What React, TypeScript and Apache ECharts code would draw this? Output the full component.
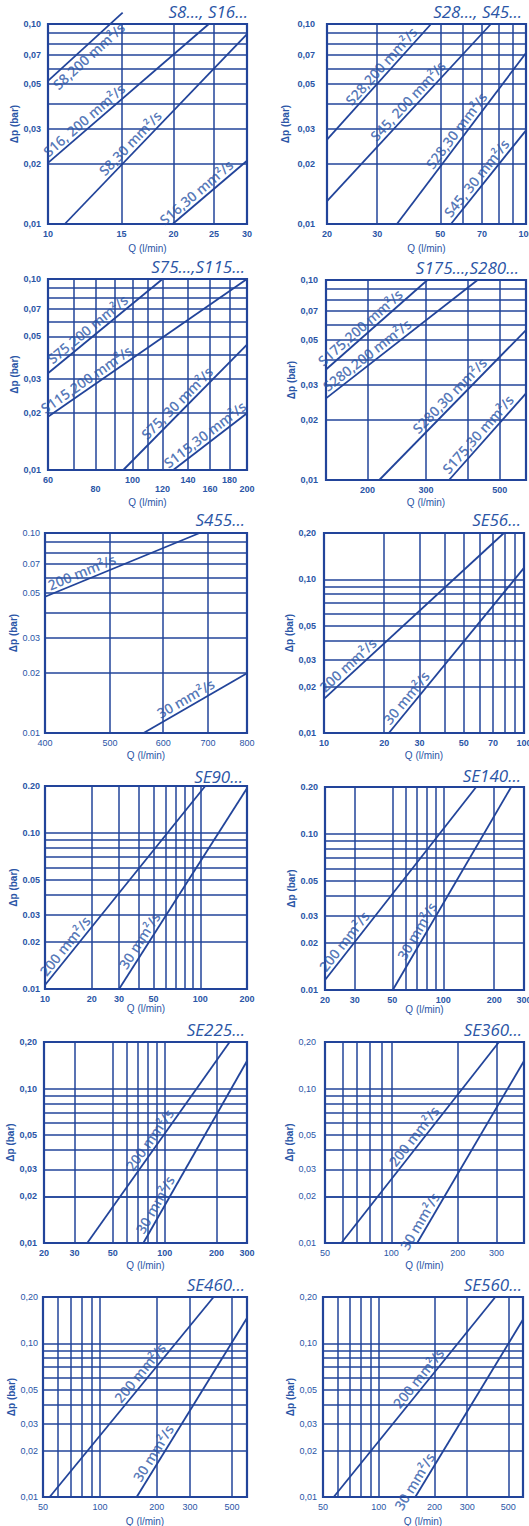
import React, { useEffect, useRef } from "react";
import * as echarts from "echarts";

// ---------- DATA ----------
const PANEL_TITLES = [
  "S8..., S16...", "S28..., S45...", "S75...,S115...", "S175...,S280...",
  "S455...", "SE56...", "SE90...", "SE140...", "SE225...", "SE360...", "SE460...", "SE560...",
];
const Q_MIN = [10, 20, 60, 150, 400, 10, 10, 20, 20, 50, 50, 50];
const Q_MAX = [30, 100, 200, 600, 800, 100, 200, 300, 300, 400, 600, 600];
const DP_MIN = [0.01, 0.01, 0.01, 0.01, 0.01, 0.01, 0.01, 0.01, 0.01, 0.01, 0.01, 0.01];
const DP_MAX = [0.1, 0.1, 0.1, 0.1, 0.1, 0.2, 0.2, 0.2, 0.2, 0.2, 0.2, 0.2];

const Q_TICK_LABELS = [
  [10, 15, 20, 25, 30],
  [20, 30, 50, 70, 100],
  [60, 80, 100, 120, 140, 160, 180, 200],
  [200, 300, 500],
  [400, 500, 600, 700, 800],
  [10, 20, 30, 50, 70, 100],
  [10, 20, 30, 50, 100, 200],
  [20, 30, 50, 100, 200, 300],
  [20, 30, 50, 100, 200, 300],
  [50, 100, 200, 300],
  [50, 100, 200, 300, 500],
  [50, 100, 200, 300, 500],
];
const Q_LOWER_ROW = [80, 120, 160, 200];
const Q_GRID_LINES = [
  [15, 20, 25],
  [30, 50, 60, 70, 80, 90],
  [70, 80, 90, 100, 110, 120, 140, 160, 180],
  [200, 300, 400, 500],
  [500, 600, 700],
  [20, 30, 40, 50, 60, 70, 80, 90],
  [20, 30, 40, 50, 60, 70, 80, 90, 100],
  [30, 50, 60, 70, 80, 90, 100, 200],
  [30, 50, 60, 70, 80, 90, 100, 200],
  [60, 70, 80, 90, 100, 200, 300],
  [60, 70, 80, 90, 100, 200, 300, 500],
  [60, 70, 80, 90, 100, 200, 300, 500],
];
const DP_TICK_LABELS_LOW = [0.01, 0.02, 0.03, 0.05, 0.07, 0.1];
const DP_TICK_LABELS_HIGH = [0.01, 0.02, 0.03, 0.05, 0.1, 0.2];
const DP_GRID_LOW = [0.02, 0.03, 0.04, 0.05, 0.06, 0.07, 0.08, 0.09];
const DP_GRID_HIGH = [0.02, 0.03, 0.04, 0.05, 0.06, 0.07, 0.08, 0.09, 0.1];
const DP_GRID_EXTRA = [[], [], [], [], [], [], [], [], [0.0225], [0.0225], [], []];

// curves: [Q start, Δp start, Q end, Δp end]
const CURVES_S8_S16 = [[10, 0.052, 15.1, 0.114], [10, 0.0202, 24.3, 0.1], [10.97, 0.01, 30, 0.089], [19.9, 0.01, 30, 0.0207]];
const CURVES_S28_S45 = [[20, 0.0264, 46.4, 0.1], [20, 0.013, 75.3, 0.1], [35.2, 0.01, 100, 0.0716], [54.5, 0.01, 100, 0.0294]];
const CURVES_S75_S115 = [[60, 0.0321, 120, 0.1], [60, 0.019, 200, 0.1], [94.6, 0.01, 200, 0.0453], [128, 0.01, 200, 0.0198]];
const CURVES_S175_S280 = [[150, 0.0357, 303, 0.1], [150, 0.0256, 429, 0.1], [217, 0.01, 600, 0.0562], [352, 0.01, 600, 0.0271]];
const CURVES_S455 = [[400, 0.048, 680, 0.1], [561, 0.01, 800, 0.0199]];
const CURVES_SE56 = [[10, 0.01665, 79.4, 0.2], [21.1, 0.01, 100, 0.1185]];
const CURVES_SE90 = [[10, 0.0106, 107.7, 0.2], [30, 0.01, 200, 0.1933]];
const CURVES_SE140 = [[20, 0.0116, 156.5, 0.2], [50.3, 0.01, 252, 0.2]];
const CURVES_SE225 = [[35.6, 0.01, 238, 0.2], [75.3, 0.01, 300, 0.1507]];
const CURVES_SE360 = [[59.3, 0.01, 308, 0.2], [131, 0.01, 400, 0.1507]];
const CURVES_SE460 = [[54.2, 0.01, 399.6, 0.2], [156.5, 0.01, 600, 0.1462]];
const CURVES_SE560 = [[57.1, 0.01, 425.6, 0.2], [157.4, 0.01, 600, 0.1426]];
const PANEL_CURVES = [
  CURVES_S8_S16, CURVES_S28_S45, CURVES_S75_S115, CURVES_S175_S280, CURVES_S455, CURVES_SE56,
  CURVES_SE90, CURVES_SE140, CURVES_SE225, CURVES_SE360, CURVES_SE460, CURVES_SE560,
];

const NAMES_S8_S16 = ["S8,200 mm²/s", "S16, 200 mm²/s", "S8,30 mm²/s", "S16,30 mm²/s"];
const NAMES_S28_S45 = ["S28,200 mm²/s", "S45, 200 mm²/s", "S28,30 mm²/s", "S45, 30 mm²/s"];
const NAMES_S75_S115 = ["S75,200 mm²/s", "S115,200 mm²/s", "S75, 30 mm²/s", "S115,30 mm²/s"];
const NAMES_S175_S280 = ["S175,200 mm²/s", "S280,200 mm²/s", "S280,30 mm²/s", "S175,30 mm²/s"];
const NAMES_SE = ["200 mm²/s", "30 mm²/s"];
const PANEL_NAMES = [
  NAMES_S8_S16, NAMES_S28_S45, NAMES_S75_S115, NAMES_S175_S280, NAMES_SE, NAMES_SE,
  NAMES_SE, NAMES_SE, NAMES_SE, NAMES_SE, NAMES_SE, NAMES_SE,
];
// Q value at the centre of each curve's label
const LABEL_Q = [
  [12.1, 12.6, 16.3, 23.4],
  [32.7, 40.5, 60.3, 70.8],
  [78.9, 78, 136, 160],
  [198, 207, 369, 450],
  [459, 658],
  [14.1, 27.9],
  [14.9, 45.3],
  [28.5, 77.5],
  [90, 97.5],
  [136, 145.6],
  [177, 210],
  [178, 171],
];

// ---------- LAYOUT / STYLE ----------
const W = 529;
const H = 1526;
const LINE_BLUE = "#22449a";
const TEXT_BLUE = "#2a55a6";
const GRID_RECTS = [
  [48, 24, 199, 200], [327, 24, 199, 200],
  [48, 279, 199, 191], [326, 280, 200, 200],
  [45, 533, 202, 200], [324, 533, 200, 200],
  [45, 786, 202, 203], [325, 787, 199, 203],
  [44, 1042, 203, 201], [325, 1042, 199, 201],
  [43, 1297, 204, 200], [323, 1297, 200, 200],
];
const TITLE_POS = [
  [248, 13.5], [522, 13.5], [245, 269], [519, 270], [245, 522], [521, 522],
  [243, 779], [521, 778], [245, 1032], [522, 1032], [245, 1287], [522, 1287],
];
const Y_NAME_GAP = [28, 37, 23, 23, 22, 20, 23, 22, 24, 23, 23, 21];
const X_NAME_GAP = [19, 19, 27, 17, 17, 17, 11, 11, 17, 17, 19, 19];
const Y_LABEL_MARGIN = [7, 12, 7, 8, 5, 8, 5, 7, 7, 9, 5, 6];
const DECIMAL_SEP = [",", ",", ",", ",", ".", ",", ".", ".", ",", ",", ",", ","];
const TICK_BOLD = [true, true, true, true, false, true, true, true, true, false, false, false];
const LABEL_BELOW = [[true, false, false, false]];
const LABEL_GAP = 9;

const lg = (v: number) => Math.log10(v);

function buildOption() {
  const grid: any[] = [];
  const xAxis: any[] = [];
  const yAxis: any[] = [];
  const series: any[] = [];
  const title: any[] = [];
  const tickFamily = "'Liberation Sans', Arial, sans-serif";
  const textFamily = "'Open Sans', 'Noto Sans', sans-serif";

  for (let i = 0; i < 12; i++) {
    const [left, top, width, height] = GRID_RECTS[i];
    const sep = DECIMAL_SEP[i];
    const weight = TICK_BOLD[i] ? "bold" : "normal";
    const highY = DP_MAX[i] > 0.15;

    grid.push({
      left, top, width, height, show: true, borderColor: LINE_BLUE, borderWidth: 2.2,
      backgroundColor: "rgba(0,0,0,0)", containLabel: false, outerBoundsMode: "none",
    });

    xAxis.push({
      type: "log", logBase: 10, gridIndex: i, min: Q_MIN[i], max: Q_MAX[i],
      axisLine: { show: false }, axisTick: { show: false }, splitLine: { show: false },
      minorTick: { show: false }, minorSplitLine: { show: false },
      axisLabel: {
        customValues: Q_TICK_LABELS[i], margin: 5, fontSize: 9, fontWeight: weight,
        color: TEXT_BLUE, fontFamily: tickFamily, hideOverlap: false,
        formatter: (v: number) => {
          const r = Math.round(v);
          return i === 2 && Q_LOWER_ROW.indexOf(r) >= 0 ? "\n" + r : String(r);
        },
      },
      name: "Q (l/min)", nameLocation: "middle", nameGap: X_NAME_GAP[i],
      nameTextStyle: { fontSize: 10, color: TEXT_BLUE, fontFamily: tickFamily },
    });

    yAxis.push({
      type: "log", logBase: 10, gridIndex: i, min: DP_MIN[i], max: DP_MAX[i],
      axisLine: { show: false }, axisTick: { show: false }, splitLine: { show: false },
      minorTick: { show: false }, minorSplitLine: { show: false },
      axisLabel: {
        customValues: highY ? DP_TICK_LABELS_HIGH : DP_TICK_LABELS_LOW,
        margin: Y_LABEL_MARGIN[i], fontSize: 9, fontWeight: weight, color: TEXT_BLUE,
        fontFamily: tickFamily, hideOverlap: false,
        formatter: (v: number) => v.toFixed(2).replace(".", sep),
      },
      name: "Δp (bar)", nameLocation: "middle", nameGap: Y_NAME_GAP[i],
      nameTextStyle: { fontSize: 10, fontWeight: "bold", color: TEXT_BLUE, fontFamily: tickFamily },
    });

    title.push({
      text: PANEL_TITLES[i], right: W - TITLE_POS[i][0], top: TITLE_POS[i][1] - 11, padding: 0,
      textStyle: { fontSize: 17, fontStyle: "italic", fontWeight: "normal", color: TEXT_BLUE, fontFamily: textFamily },
    });

    const yGrid = (highY ? DP_GRID_HIGH : DP_GRID_LOW).concat(DP_GRID_EXTRA[i]);
    const gridLineData = Q_GRID_LINES[i].map((v) => ({ xAxis: v })).concat(yGrid.map((v) => ({ yAxis: v })) as any);

    const xSpan = lg(Q_MAX[i]) - lg(Q_MIN[i]);
    const ySpan = lg(DP_MAX[i]) - lg(DP_MIN[i]);

    PANEL_CURVES[i].forEach((c, j) => {
      const [x1, y1, x2, y2] = c;
      series.push({
        type: "line", xAxisIndex: i, yAxisIndex: i, data: [[x1, y1], [x2, y2]],
        symbol: "none", clip: false, silent: true, animation: false,
        lineStyle: { color: LINE_BLUE, width: 1.8 },
        markLine: j === 0 ? {
          silent: true, symbol: ["none", "none"], animation: false,
          label: { show: false }, emphasis: { disabled: true },
          lineStyle: { color: LINE_BLUE, width: 1.5, type: "solid" },
          data: gridLineData,
        } : undefined,
      });

      const lx = LABEL_Q[i][j];
      const t = (lg(lx) - lg(x1)) / (lg(x2) - lg(x1));
      const ly = Math.pow(10, lg(y1) + t * (lg(y2) - lg(y1)));
      const dxPx = ((lg(x2) - lg(x1)) / xSpan) * width;
      const dyPx = ((lg(y2) - lg(y1)) / ySpan) * height;
      const angle = (Math.atan2(dyPx, dxPx) * 180) / Math.PI;
      const below = LABEL_BELOW[i] ? LABEL_BELOW[i][j] : false;
      series.push({
        type: "scatter", xAxisIndex: i, yAxisIndex: i, data: [[lx, ly]],
        symbol: "circle", symbolSize: 1, silent: true, animation: false, z: 5,
        itemStyle: { color: "rgba(0,0,0,0)" },
        label: {
          show: true, position: "inside", rotate: angle, align: "center",
          verticalAlign: "middle", offset: [0, below ? LABEL_GAP : -LABEL_GAP],
          formatter: PANEL_NAMES[i][j], color: TEXT_BLUE, fontSize: 14, fontWeight: 600,
          fontFamily: textFamily, textBorderWidth: 0, textShadowBlur: 0,
        },
      });
    });
  }

  return {
    animation: false,
    backgroundColor: "#ffffff",
    title, grid, xAxis, yAxis, series,
  };
}

export default function App() {
  const ref = useRef<HTMLDivElement>(null);
  useEffect(() => {
    document.body.style.margin = "0";
    const chart = echarts.init(ref.current!, undefined, { renderer: "svg" });
    chart.setOption(buildOption() as any);
    return () => chart.dispose();
  }, []);
  return <div ref={ref} style={{ width: W, height: H, background: "#fff" }} />;
}
